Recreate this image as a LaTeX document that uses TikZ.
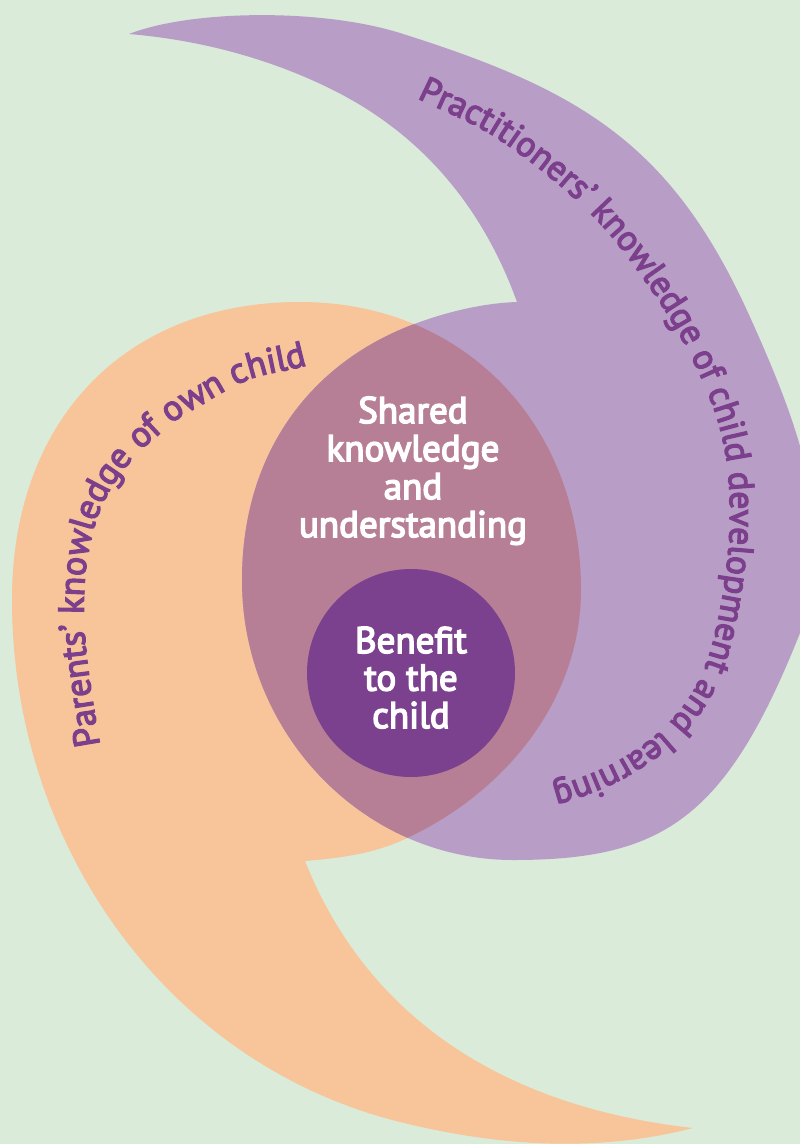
\documentclass[tikz,border=0pt]{standalone}
\usepackage{fontspec}
\setmainfont{PT Sans}
\newfontfamily\centrefont{PT Sans}[FakeBold=4]
\newfontfamily\swirlfont{PT Sans}[FakeBold=3.5]
\usetikzlibrary{decorations.text}

\definecolor{bg}{HTML}{DAEBD9}
\definecolor{practfill}{HTML}{B89DC7}
\definecolor{parentfill}{HTML}{F8C499}
\definecolor{sharedfill}{HTML}{B77F96}
\definecolor{childfill}{HTML}{7B418E}
\definecolor{labelpurple}{HTML}{7B3F8C}

% outline of the parents' swirl: inner edge of the tail, tip, outer edge, body
\def\parentpath{(305,861) .. controls (368,1019) and (505,1107) .. (693,1128)
  .. controls (596,1153) and (497,1146) .. (400,1122)
  .. controls (167,1064) and (12,845) .. (12,600)
  .. controls (12,420) and (125,302) .. (300,302)
  .. controls (463,302) and (581,423) .. (581,590)
  .. controls (581,700) and (505,793) .. (405,839)
  .. controls (373,854) and (340,858) .. (305,861) -- cycle}

% outline of the practitioners' swirl: outer edge from the tail tip, body, inner edge of the tail
\def\practpath{(129,34) .. controls (190,10) and (320,8) .. (400,33)
  .. controls (581,90) and (672,144) .. (750,317)
  .. controls (795,417) and (841,531) .. (800,633)
  .. controls (726,819) and (663,860) .. (513,860)
  .. controls (364,860) and (242,734) .. (242,580)
  .. controls (242,450) and (313.6,360.4) .. (417,323)
  .. controls (450,311) and (485,303) .. (517,302)
  .. controls (483,208) and (423,135) .. (333,90)
  .. controls (270,58.5) and (200,40) .. (129,34) -- cycle}

\tikzset{
  centrelabel/.style={text=white, anchor=base, inner sep=0pt,
    font=\centrefont\fontsize{37}{40}\selectfont},
  curvelabel/.style args={#1at#2}{decorate, decoration={text along path, text color=labelpurple,
    text align=left, text={|\swirlfont\fontsize{#2}{40}\selectfont|#1}}},
}

\begin{document}
\begin{tikzpicture}[x=1pt,y=-1pt]
  \useasboundingbox (0,0) rectangle (800,1144);
  \clip (0,0) rectangle (800,1144);
  \fill[bg] (0,0) rectangle (800,1144);

  \fill[parentfill] \parentpath;
  \fill[practfill] \practpath;
  \begin{scope}
    \clip \parentpath;
    \fill[sharedfill] \practpath;
  \end{scope}

  \node[circle, fill=childfill, minimum size=208pt, inner sep=0pt] (child) at (411,673) {};

  \node[centrelabel] (sh1) at (413,423) {Shared};
  \node[centrelabel] (sh2) at (413,461) {knowledge};
  \node[centrelabel] (sh3) at (413,499) {and};
  \node[centrelabel] (sh4) at (413,537) {understanding};

  \node[centrelabel] (be1) at (411,653) {Benefit};
  \node[centrelabel] (be2) at (411,690.5) {to the};
  \node[centrelabel] (be3) at (411,728) {child};

  % curved labels along the two swirls (y axis pointing up inside this scope)
  \begin{scope}[y=1pt]
  \path[curvelabel={Practitioners’ knowledge of child development and learning at 35.5}]
    (417,-98) .. controls (444.7,-112) and (471.2,-120.8) .. (500,-140)
    .. controls (528.8,-159.2) and (564.2,-187.2) .. (590,-213)
    .. controls (615.8,-238.8) and (636.7,-268) .. (655,-295)
    .. controls (673.3,-322) and (688.5,-350) .. (700,-375)
    .. controls (711.5,-400) and (719,-420.8) .. (724,-445)
    .. controls (729,-469.2) and (730.3,-494.2) .. (730,-520)
    .. controls (729.7,-545.8) and (726.5,-574.7) .. (722,-600)
    .. controls (717.5,-625.3) and (711.7,-651.7) .. (703,-672)
    .. controls (694.3,-692.3) and (683,-707.8) .. (670,-722)
    .. controls (657,-736.2) and (640.8,-747.3) .. (625,-757)
    .. controls (609.2,-766.7) and (593.3,-773.3) .. (575,-780)
    .. controls (556.7,-786.7) and (535,-791.3) .. (515,-797);
  \path[curvelabel={Parents’ knowledge of own child at 36}]
    (100,-745) .. controls (97,-726.7) and (93.5,-707.5) .. (91,-690)
    .. controls (88.5,-672.5) and (86.2,-655.8) .. (85,-640)
    .. controls (83.8,-624.2) and (83.5,-609.5) .. (84,-595)
    .. controls (84.5,-580.5) and (85.3,-567.2) .. (88,-553)
    .. controls (90.7,-538.8) and (94.3,-523.5) .. (100,-510)
    .. controls (105.7,-496.5) and (112.8,-484) .. (122,-472)
    .. controls (131.2,-460) and (140.3,-448.7) .. (155,-438)
    .. controls (166.2,-427.3) and (177.5,-417.5) .. (195,-408)
    .. controls (212.5,-398.5) and (227.5,-388.5) .. (245,-381)
    .. controls (262.5,-373.5) and (282.7,-371.5) .. (300,-367)
    .. controls (317.3,-362.5) and (326.7,-363.7) .. (340,-362);
  \end{scope}
\end{tikzpicture}
\end{document}
